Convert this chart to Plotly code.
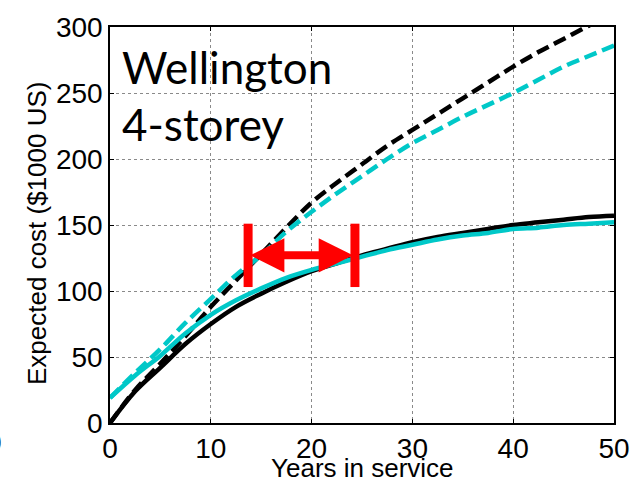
import plotly.graph_objects as go

# Expected repair cost over service life, Wellington 4-storey building
years = [0, 2.5, 5, 7.5, 10, 12.5, 15, 17.5, 20, 22.5, 25, 27.5, 30,
         32.5, 35, 37.5, 40, 42.5, 45, 47.5, 50]

black_solid = [0, 24, 42, 60, 75, 88, 98, 107, 115, 121, 127, 132, 137,
               141, 144, 147, 150, 152, 154, 156, 157]
cyan_solid = [19, 36, 51, 68, 82, 93, 102, 110, 116, 121, 126, 131, 135,
              139, 142, 144, 147, 148, 150, 151, 152]
black_dashed = [0, 25, 45, 66, 88, 108, 128, 148, 167, 182, 196, 210, 222,
                234, 246, 258, 270, 281, 291, 301, 310]
cyan_dashed = [19, 38, 56, 76, 94, 112, 127, 145, 160, 174, 187, 200, 212,
               222, 232, 241, 250, 260, 270, 278, 286]

x_ticks = [0, 10, 20, 30, 40, 50]
y_ticks = [0, 50, 100, 150, 200, 250, 300]

# Double-headed span marker
span_start, span_end = 13.7, 24.3
span_level = 127
span_half_height = 24
head_len = 3.4
head_half = 13

CYAN = "#00C8C8"
DASH = "13px,6px"

fig = go.Figure()
for ys, color, dash in [
    (black_dashed, "black", DASH),
    (cyan_dashed, CYAN, DASH),
    (black_solid, "black", "solid"),
    (cyan_solid, CYAN, "solid"),
]:
    fig.add_trace(go.Scatter(x=years, y=ys, mode="lines",
                             line=dict(color=color, width=4.5, dash=dash),
                             line_shape="spline",
                             showlegend=False, hoverinfo="skip"))

red = "#FF0000"
shapes = [
    dict(type="line", xref="x", yref="y", x0=span_start, x1=span_start,
         y0=span_level - span_half_height, y1=span_level + span_half_height,
         line=dict(color=red, width=9)),
    dict(type="line", xref="x", yref="y", x0=span_end, x1=span_end,
         y0=span_level - span_half_height, y1=span_level + span_half_height,
         line=dict(color=red, width=9)),
    dict(type="line", xref="x", yref="y", x0=span_start + head_len - 0.2,
         x1=span_end - head_len + 0.2, y0=span_level, y1=span_level,
         line=dict(color=red, width=8)),
    dict(type="path", xref="x", yref="y", fillcolor=red,
         line=dict(color=red, width=0),
         path=(f"M {span_start + 0.2} {span_level} "
               f"L {span_start + 0.2 + head_len} {span_level + head_half} "
               f"L {span_start + 0.2 + head_len} {span_level - head_half} Z")),
    dict(type="path", xref="x", yref="y", fillcolor=red,
         line=dict(color=red, width=0),
         path=(f"M {span_end - 0.2} {span_level} "
               f"L {span_end - 0.2 - head_len} {span_level + head_half} "
               f"L {span_end - 0.2 - head_len} {span_level - head_half} Z")),
]

SANS = "Liberation Sans, Arial, sans-serif"
axis_font = dict(family=SANS, size=28, color="black")

annotations = [
    dict(text="Wellington<br>4-storey", xref="paper", yref="paper",
         x=0, y=1, xanchor="left", yanchor="top", xshift=10, yshift=-12,
         showarrow=False, align="left",
         font=dict(family="Lato, sans-serif", size=44, color="black")),
    dict(text="Years in service", xref="paper", yref="paper", x=0.5, y=0,
         xanchor="center", yanchor="middle", yshift=-45, showarrow=False,
         font=dict(family=SANS, size=26, color="black")),
    dict(text="Expected cost ($1000 US)", xref="paper", yref="paper", x=0, y=0.5,
         xanchor="center", yanchor="middle", xshift=-73, yshift=-8, textangle=-90,
         showarrow=False, font=dict(family=SANS, size=26, color="black")),
    dict(text="0", xref="paper", yref="paper", x=0, y=0,
         xanchor="right", yanchor="middle", xshift=-106, yshift=-19,
         showarrow=False, font=axis_font),
]

fig.update_layout(
    width=642, height=483,
    margin=dict(l=110, r=19, t=25, b=60),
    paper_bgcolor="white", plot_bgcolor="white",
    shapes=shapes, annotations=annotations,
    xaxis=dict(range=[0, 50], tickvals=x_ticks, ticks="inside", ticklen=4,
               showline=True, linecolor="black", linewidth=1.5, mirror="ticks",
               showgrid=True, gridcolor="#8a8a8a", griddash="dot", gridwidth=1,
               zeroline=False, tickfont=axis_font, tickcolor="black"),
    yaxis=dict(range=[0, 300], tickvals=y_ticks, ticks="inside", ticklen=4,
               showline=True, linecolor="black", linewidth=1.5, mirror="ticks",
               showgrid=True, gridcolor="#8a8a8a", griddash="dot", gridwidth=1,
               zeroline=False, tickfont=axis_font, tickcolor="black"),
)

fig.write_html("out.html")
